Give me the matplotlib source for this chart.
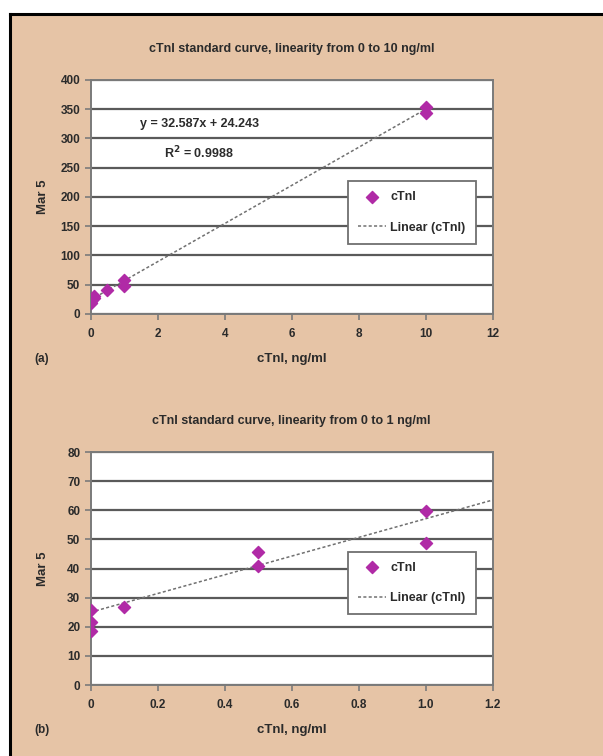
import numpy as np
import matplotlib
matplotlib.use('Agg')
import matplotlib.pyplot as plt
from matplotlib.patches import Rectangle

plt.rcParams['font.family'] = ['Liberation Sans', 'DejaVu Sans']
plt.rcParams['font.weight'] = 'bold'
plt.rcParams['axes.titleweight'] = 'bold'
plt.rcParams['axes.labelweight'] = 'bold'

# panel (a): full range 0-10 ng/ml
conc_a = [0, 0, 0, 0.1, 0.1, 0.5, 1, 1, 10, 10]
signal_a = [19, 22, 26, 27, 30, 41, 48, 58, 343, 353]
slope_a = 32.587
intercept_a = 24.243
r2_a = 0.9988

# panel (b): low range 0-1 ng/ml
conc_b = [0, 0, 0, 0.1, 0.5, 0.5, 1, 1]
signal_b = [18.7, 21.8, 25.8, 26.7, 41.0, 45.6, 48.7, 59.6]
slope_b = 32.1
intercept_b = 25.0

bg = '#E6C4A6'
marker_col = '#B02AA6'
text_col = '#2b2b2b'
grid_col = '#5a5a5a'

fig = plt.figure(figsize=(6.03, 7.56), dpi=100)
fig.patch.set_facecolor('white')

# tan panel with black frame on top and left
fig.patches.append(Rectangle((10 / 603, 0), 1, 1 - 14 / 756, transform=fig.transFigure,
                             facecolor=bg, edgecolor='none', zorder=-2))
fig.add_artist(plt.Line2D([9.5 / 603, 1], [1 - 14 / 756, 1 - 14 / 756], color='black', lw=2.2,
                          transform=fig.transFigure))
fig.add_artist(plt.Line2D([9.5 / 603, 9.5 / 603], [0, 1 - 14 / 756], color='black', lw=2.2,
                          transform=fig.transFigure))


def panel(rect, x, y, slope, intercept, line_end, xmax, xticks, xlabels, ymax, ystep, title, tag):
    ax = fig.add_axes(rect)
    ax.set_facecolor('white')
    ax.scatter(x, y, marker='D', s=38, color=marker_col, zorder=4, label='cTnI')
    xs = np.array([0, line_end])
    ax.plot(xs, slope * xs + intercept, ls=(0, (2, 1.5)), color='#707070', lw=1.1,
            zorder=3, label='Linear (cTnI)')
    ax.set_xlim(0, xmax)
    ax.set_ylim(0, ymax)
    ax.set_xticks(xticks)
    ax.set_xticklabels(xlabels)
    ax.set_yticks(np.arange(0, ymax + 1, ystep))
    ax.yaxis.grid(True, color=grid_col, lw=1.6)
    ax.set_axisbelow(True)
    for s in ax.spines.values():
        s.set_color('#7a7a7a')
        s.set_linewidth(1.4)
    ax.tick_params(colors='#7a7a7a', labelcolor=text_col, labelsize=8.5, length=4, width=1.2)
    ax.tick_params(axis='x', pad=6)
    ax.set_title(title, fontsize=9, color=text_col, pad=20)
    ax.set_xlabel('cTnI, ng/ml', fontsize=9.5, color=text_col)
    ax.xaxis.set_label_coords(0.5, -0.167)
    ax.set_ylabel('Mar 5', fontsize=9.5, color=text_col)
    ax.yaxis.set_label_coords(-0.104, 0.5)
    ax.text(-0.121, -0.192, tag, transform=ax.transAxes, fontsize=8.5, color=text_col,
            ha='center', va='center')
    leg = ax.legend(loc='upper left', bbox_to_anchor=(0.641, 0.0), frameon=True, fancybox=False,
                    fontsize=9, borderpad=0.8, labelspacing=1.5, handlelength=2.2,
                    handletextpad=0.35, labelcolor=text_col, framealpha=1, borderaxespad=0)
    leg.get_frame().set_edgecolor('#707070')
    leg.get_frame().set_linewidth(1.3)
    return ax, leg


ax_a, leg_a = panel([0.1504, 0.5847, 0.6667, 0.3095], conc_a, signal_a, slope_a, intercept_a, 10,
                    12, [0, 2, 4, 6, 8, 10, 12], ['0', '2', '4', '6', '8', '10', '12'], 400, 50,
                    'cTnI standard curve, linearity from 0 to 10 ng/ml', '(a)')
leg_a.set_bbox_to_anchor((0.641, 0.568), transform=ax_a.transAxes)
ax_a.text(0.27, 0.812, 'y = {:.3f}x + {:.3f}'.format(slope_a, intercept_a), transform=ax_a.transAxes,
          fontsize=9, color=text_col, ha='center', va='center')
ax_a.text(0.27, 0.69, 'R$^\\mathbf{{2}}$ = {:.4f}'.format(r2_a), transform=ax_a.transAxes,
          fontsize=9, color=text_col, ha='center', va='center')

ax_b, leg_b = panel([0.1504, 0.0939, 0.6667, 0.3082], conc_b, signal_b, slope_b, intercept_b, 1.2,
                    1.2, [0, 0.2, 0.4, 0.6, 0.8, 1.0, 1.2], ['0', '0.2', '0.4', '0.6', '0.8', '1.0', '1.2'],
                    80, 10, 'cTnI standard curve, linearity from 0 to 1 ng/ml', '(b)')
leg_b.set_bbox_to_anchor((0.641, 0.573), transform=ax_b.transAxes)

fig.savefig('out.png', dpi=100, facecolor=fig.get_facecolor())
